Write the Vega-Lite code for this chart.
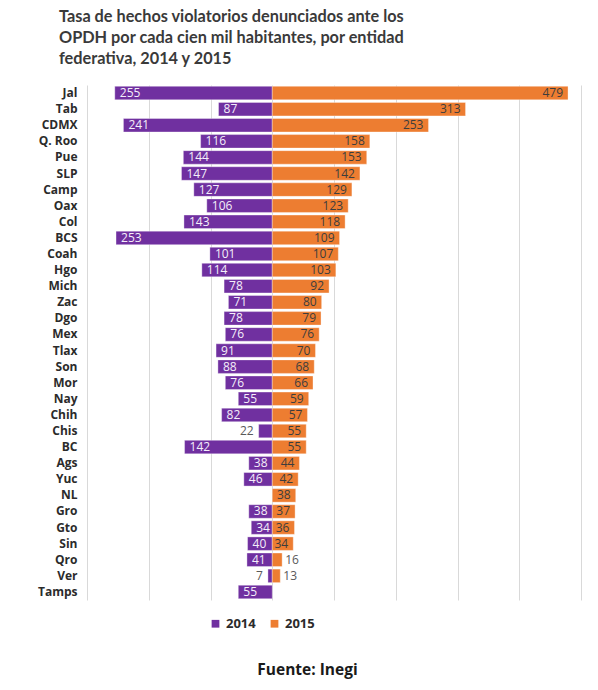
{
  "$schema": "https://vega.github.io/schema/vega-lite/v6.json",
  "width": 494,
  "height": 515,
  "padding": {"left": 37, "top": 8, "right": 18, "bottom": 5},
  "background": "white",
  "title": {
    "text": ["Tasa de hechos violatorios denunciados ante los", "OPDH por cada cien mil habitantes, por entidad", "federativa, 2014 y 2015"],
    "anchor": "start",
    "frame": "group",
    "dx": -28,
    "offset": 18,
    "font": "Lato",
    "fontSize": 16.3,
    "fontWeight": "bold",
    "lineHeight": 21,
    "color": "#3a3a3a"
  },
  "data": {
    "values": [
      {"entidad": "Jal", "anio": "2014", "valor": 255}, {"entidad": "Jal", "anio": "2015", "valor": 479},
      {"entidad": "Tab", "anio": "2014", "valor": 87}, {"entidad": "Tab", "anio": "2015", "valor": 313},
      {"entidad": "CDMX", "anio": "2014", "valor": 241}, {"entidad": "CDMX", "anio": "2015", "valor": 253},
      {"entidad": "Q. Roo", "anio": "2014", "valor": 116}, {"entidad": "Q. Roo", "anio": "2015", "valor": 158},
      {"entidad": "Pue", "anio": "2014", "valor": 144}, {"entidad": "Pue", "anio": "2015", "valor": 153},
      {"entidad": "SLP", "anio": "2014", "valor": 147}, {"entidad": "SLP", "anio": "2015", "valor": 142},
      {"entidad": "Camp", "anio": "2014", "valor": 127}, {"entidad": "Camp", "anio": "2015", "valor": 129},
      {"entidad": "Oax", "anio": "2014", "valor": 106}, {"entidad": "Oax", "anio": "2015", "valor": 123},
      {"entidad": "Col", "anio": "2014", "valor": 143}, {"entidad": "Col", "anio": "2015", "valor": 118},
      {"entidad": "BCS", "anio": "2014", "valor": 253}, {"entidad": "BCS", "anio": "2015", "valor": 109},
      {"entidad": "Coah", "anio": "2014", "valor": 101}, {"entidad": "Coah", "anio": "2015", "valor": 107},
      {"entidad": "Hgo", "anio": "2014", "valor": 114}, {"entidad": "Hgo", "anio": "2015", "valor": 103},
      {"entidad": "Mich", "anio": "2014", "valor": 78}, {"entidad": "Mich", "anio": "2015", "valor": 92},
      {"entidad": "Zac", "anio": "2014", "valor": 71}, {"entidad": "Zac", "anio": "2015", "valor": 80},
      {"entidad": "Dgo", "anio": "2014", "valor": 78}, {"entidad": "Dgo", "anio": "2015", "valor": 79},
      {"entidad": "Mex", "anio": "2014", "valor": 76}, {"entidad": "Mex", "anio": "2015", "valor": 76},
      {"entidad": "Tlax", "anio": "2014", "valor": 91}, {"entidad": "Tlax", "anio": "2015", "valor": 70},
      {"entidad": "Son", "anio": "2014", "valor": 88}, {"entidad": "Son", "anio": "2015", "valor": 68},
      {"entidad": "Mor", "anio": "2014", "valor": 76}, {"entidad": "Mor", "anio": "2015", "valor": 66},
      {"entidad": "Nay", "anio": "2014", "valor": 55}, {"entidad": "Nay", "anio": "2015", "valor": 59},
      {"entidad": "Chih", "anio": "2014", "valor": 82}, {"entidad": "Chih", "anio": "2015", "valor": 57},
      {"entidad": "Chis", "anio": "2014", "valor": 22}, {"entidad": "Chis", "anio": "2015", "valor": 55},
      {"entidad": "BC", "anio": "2014", "valor": 142}, {"entidad": "BC", "anio": "2015", "valor": 55},
      {"entidad": "Ags", "anio": "2014", "valor": 38}, {"entidad": "Ags", "anio": "2015", "valor": 44},
      {"entidad": "Yuc", "anio": "2014", "valor": 46}, {"entidad": "Yuc", "anio": "2015", "valor": 42},
      {"entidad": "NL", "anio": "2015", "valor": 38},
      {"entidad": "Gro", "anio": "2014", "valor": 38}, {"entidad": "Gro", "anio": "2015", "valor": 37},
      {"entidad": "Gto", "anio": "2014", "valor": 34}, {"entidad": "Gto", "anio": "2015", "valor": 36},
      {"entidad": "Sin", "anio": "2014", "valor": 40}, {"entidad": "Sin", "anio": "2015", "valor": 34},
      {"entidad": "Qro", "anio": "2014", "valor": 41}, {"entidad": "Qro", "anio": "2015", "valor": 16},
      {"entidad": "Ver", "anio": "2014", "valor": 7}, {"entidad": "Ver", "anio": "2015", "valor": 13},
      {"entidad": "Tamps", "anio": "2014", "valor": 55}
    ]
  },
  "transform": [
    {"calculate": "datum.anio == '2014' ? -datum.valor : datum.valor", "as": "pos"}
  ],
  "encoding": {
    "y": {
      "field": "entidad",
      "type": "nominal",
      "sort": null,
      "title": null,
      "scale": {"paddingInner": 0.16, "paddingOuter": 0.08},
      "axis": {
        "domain": false,
        "ticks": false,
        "labelPadding": 10,
        "labelFont": "Open Sans",
        "labelFontSize": 12,
        "labelFontWeight": "bold",
        "labelColor": "#2b2b2b"
      }
    },
    "x": {
      "field": "pos",
      "type": "quantitative",
      "scale": {"domain": [-300, 500], "nice": false},
      "axis": {
        "values": [-300, -200, -100, 0, 100, 200, 300, 400, 500],
        "grid": true,
        "gridColor": "#d9d9d9",
        "labels": false,
        "ticks": false,
        "domain": false,
        "title": "Fuente: Inegi",
        "titleX": 220,
        "titleY": 74,
        "titleAlign": "center",
        "titleBaseline": "alphabetic",
        "titleFont": "Open Sans",
        "titleFontSize": 15.5,
        "titleFontWeight": "bold",
        "titleColor": "#1a1a1a"
      }
    }
  },
  "layer": [
    {
      "mark": {"type": "bar", "stroke": "#ffffff", "strokeOpacity": 0.35, "strokeWidth": 1},
      "encoding": {
        "color": {
          "field": "anio",
          "type": "nominal",
          "scale": {"domain": ["2014", "2015"], "range": ["#7030a0", "#ed7d31"]},
          "legend": {
            "title": null,
            "orient": "none",
            "legendX": 122,
            "legendY": 532,
            "direction": "horizontal",
            "symbolType": "square",
            "symbolSize": 60,
            "symbolStrokeWidth": 0,
            "labelFont": "Open Sans",
            "labelFontSize": 13,
            "labelFontWeight": "bold",
            "labelColor": "#2b2b2b",
            "labelOffset": 4,
            "columnPadding": 12
          }
        }
      }
    },
    {
      "transform": [{"filter": "datum.anio == '2014' && datum.valor >= 30"}],
      "mark": {"type": "text", "align": "left", "dx": 5, "font": "Open Sans", "fontSize": 12, "fill": "#f4eefa"},
      "encoding": {"text": {"field": "valor", "type": "quantitative"}}
    },
    {
      "transform": [{"filter": "datum.anio == '2014' && datum.valor < 30"}],
      "mark": {"type": "text", "align": "right", "dx": -5, "font": "Open Sans", "fontSize": 12, "fill": "#595959"},
      "encoding": {"text": {"field": "valor", "type": "quantitative"}}
    },
    {
      "transform": [{"filter": "datum.anio == '2015' && datum.valor >= 20"}],
      "mark": {"type": "text", "align": "right", "dx": -5, "font": "Open Sans", "fontSize": 12, "fill": "#3d3d3d"},
      "encoding": {"text": {"field": "valor", "type": "quantitative"}}
    },
    {
      "transform": [{"filter": "datum.anio == '2015' && datum.valor < 20"}],
      "mark": {"type": "text", "align": "left", "dx": 3, "font": "Open Sans", "fontSize": 12, "fill": "#595959"},
      "encoding": {"text": {"field": "valor", "type": "quantitative"}}
    }
  ],
  "config": {"view": {"stroke": null}}
}
